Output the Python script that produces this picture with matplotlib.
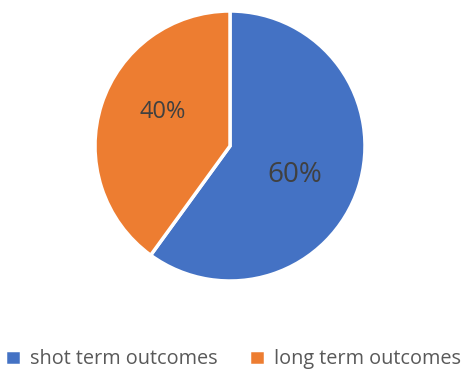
import matplotlib
matplotlib.use("Agg")
import matplotlib.pyplot as plt

categories = ["shot term outcomes", "long term outcomes"]
values = [60, 40]
colors = ["#4472C4", "#ED7D31"]

plt.rcParams['font.family'] = ['Open Sans', 'DejaVu Sans']
fig = plt.figure(figsize=(4.66, 3.71), dpi=100)
cx, cy, r = 230 / 466, 1 - 146 / 371, 135
ax = fig.add_axes([cx - r / 466, cy - r / 371, 2 * r / 466, 2 * r / 371])
wedges, texts, autotexts = ax.pie(
    values, colors=colors, startangle=90, counterclock=False,
    autopct=lambda p: f"{p:.0f}%", pctdistance=0.55,
    wedgeprops=dict(edgecolor="white", linewidth=2.5),
    textprops=dict(color="#404040"))
autotexts[0].set_fontsize(20)
autotexts[0].set_position((0.48, -0.215))
autotexts[1].set_fontsize(17)
autotexts[1].set_position((-0.50, 0.25))
ax.set_aspect("equal")
ax.set_xlim(-1.0, 1.0)
ax.set_ylim(-1.0, 1.0)
ax.axis("off")

fig.legend(wedges, categories, loc="center", bbox_to_anchor=(0.5, 1 - 359 / 371),
           ncol=2, frameon=False, fontsize=14.3, handlelength=0.8, handleheight=0.8,
           handletextpad=0.45, columnspacing=1.6, labelcolor="#595959")
fig.savefig("out.png", dpi=100)
